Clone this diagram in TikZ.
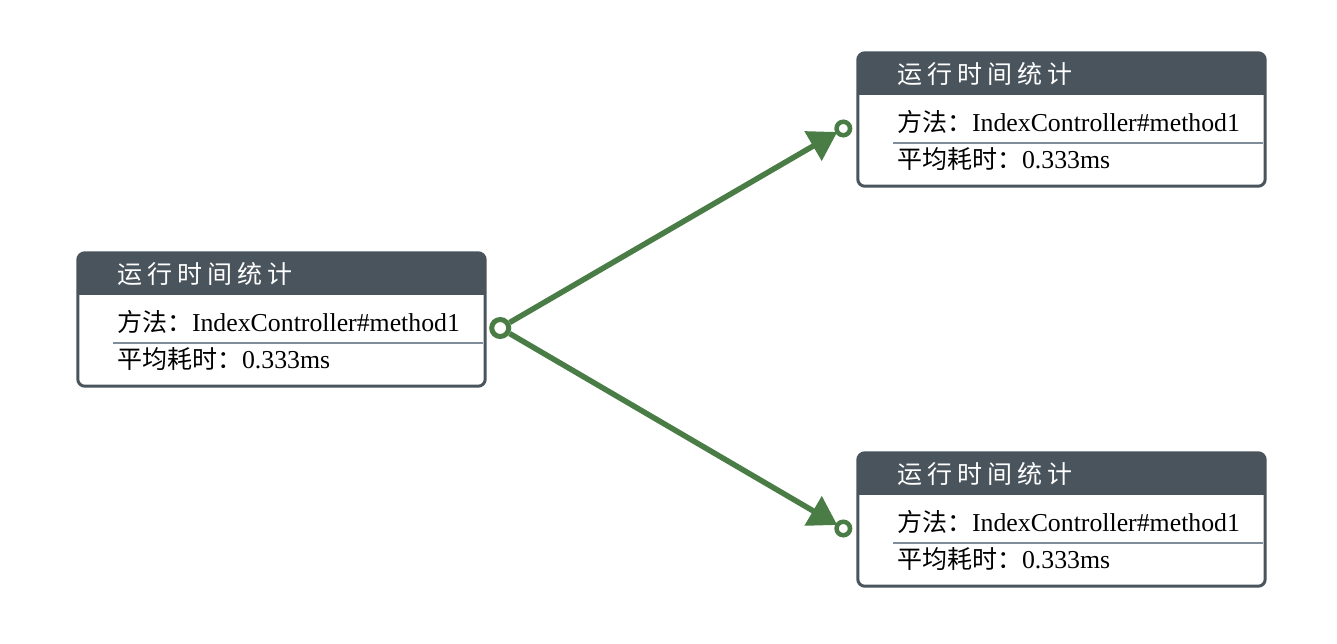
\documentclass[tikz,border=0pt]{standalone}
\usepackage{fontspec}
\setmainfont{Liberation Serif}
\newfontfamily\cjk{Noto Sans CJK SC}
\newfontfamily\cjktitle[LetterSpace=20]{Noto Sans CJK SC}
\usetikzlibrary{calc,arrows.meta}
\definecolor{hdrcol}{HTML}{4A545C}
\definecolor{sepcol}{HTML}{7F8C99}
\definecolor{linkcol}{HTML}{4A7C45}
\tikzset{
  boxnode/.style={rectangle, minimum width=407pt, minimum height=133pt, inner sep=0pt},
  titletext/.style={inner sep=0pt, anchor=base west, text=white, font=\fontsize{25}{28}\selectfont\cjktitle},
  bodytext/.style={inner sep=0pt, anchor=base west, text=black, font=\fontsize{25.8}{28}\selectfont},
  startdot/.style={circle, draw=linkcol, line width=5pt, fill=white, minimum size=17pt, inner sep=0pt},
  enddot/.style={circle, draw=linkcol, line width=4.5pt, fill=white, minimum size=13.5pt, inner sep=0pt},
  link/.style={draw=linkcol, line width=5.5pt, -{Triangle[length=28pt,width=33pt]}, shorten >=-2pt},
}
\newcommand\cjkbody[1]{{\fontsize{25}{28}\selectfont\cjk #1}}
\newcommand\statbx[3]{%
  \node[boxnode] (#1) at (#2,#3) {};
  \begin{scope}
    \clip[rounded corners=7pt] (#1.north west) rectangle (#1.south east);
    \fill[hdrcol] (#1.north west) rectangle ($(#1.north east)+(0,42)$);
  \end{scope}
  \draw[hdrcol, line width=3pt, rounded corners=7pt] (#1.north west) rectangle (#1.south east);
  \draw[sepcol, line width=1.5pt] ($(#1.north west)+(35,90)$) -- ($(#1.north east)+(-2,90)$);
  \node[titletext] (#1-t) at ($(#1.north west)+(39,31)$) {运行时间统计};
  \node[bodytext] (#1-a) at ($(#1.north west)+(39,79)$) {\cjkbody{方法：}IndexController\#method1};
  \node[bodytext] (#1-b) at ($(#1.north west)+(39,116)$) {\cjkbody{平均耗时：}0.333ms};
}
\begin{document}
\begin{tikzpicture}[x=1pt,y=-1pt]
  \useasboundingbox (0,0) rectangle (1337,643);
  \statbx{L}{281.5}{319.5}
  \statbx{T}{1061.5}{119.5}
  \statbx{B}{1061.5}{519.5}
  \node[startdot] (s) at ($(L.east)+(15,8.5)$) {};
  \node[enddot] (e1) at ($(T.west)+(-14.5,9)$) {};
  \node[enddot] (e2) at ($(B.west)+(-14.5,9)$) {};
  \draw[link] (s) -- (e1);
  \draw[link] (s) -- (e2);
\end{tikzpicture}
\end{document}
